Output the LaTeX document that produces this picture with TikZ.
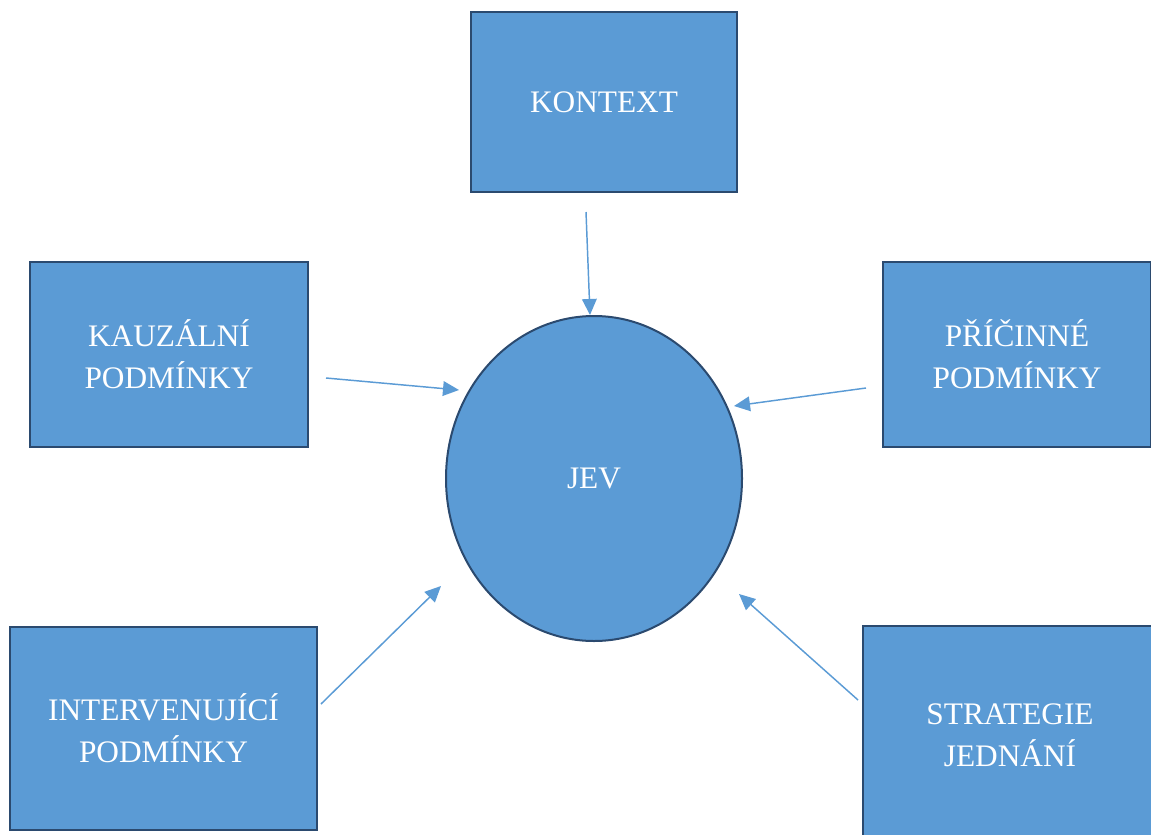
\documentclass[tikz,border=0pt]{standalone}
\usepackage{fontspec}
\setmainfont{Liberation Serif}
\usetikzlibrary{arrows.meta,shapes.geometric}
\definecolor{boxblue}{HTML}{5B9BD5}
\definecolor{boxline}{HTML}{2B4A6F}

\begin{document}
\begin{tikzpicture}[x=0.75pt,y=-0.75pt,
  box/.style={draw=boxline,line width=1.8pt,fill=boxblue,text=white,align=center,
    inner sep=0pt,outer sep=0pt,font=\fontsize{23.5}{31.5}\selectfont},
  arr/.style={draw=boxblue,line width=1.1pt,-{Triangle[length=12pt,width=11pt]}}]
  \useasboundingbox (0,0) rectangle (1151,834);
  \clip (0,0) rectangle (1151,834);
  \node[box,minimum width=199.5pt,minimum height=135pt] (kontext) at (604,102) {KONTEXT};
  \node[box,minimum width=208.5pt,minimum height=138.75pt] (kauzalni) at (169,354.5) {KAUZÁLNÍ\\PODMÍNKY};
  \node[box,minimum width=201pt,minimum height=138.75pt] (pricinne) at (1017,354.5) {PŘÍČINNÉ\\PODMÍNKY};
  \node[box,minimum width=230.25pt,minimum height=152.25pt] (interv) at (163.5,728.5) {INTERVENUJÍCÍ\\PODMÍNKY};
  \node[box,minimum width=220.5pt,minimum height=163.5pt] (strategie) at (1010,735) {STRATEGIE\\JEDNÁNÍ};
  \node[box,ellipse,line width=1.5pt,minimum width=222pt,minimum height=243.75pt] (jev) at (594,478.5) {JEV};
  % arrow ends
  \coordinate (k1) at (586,212);   \coordinate (k2) at (590,315);
  \coordinate (a1) at (326,378);   \coordinate (a2) at (459,390);
  \coordinate (p1) at (866,388);   \coordinate (p2) at (734,406);
  \coordinate (i1) at (321,704);   \coordinate (i2) at (441,586);
  \coordinate (s1) at (858,700);   \coordinate (s2) at (739,594);
  \draw[arr] (k1) -- (k2);
  \draw[arr] (a1) -- (a2);
  \draw[arr] (p1) -- (p2);
  \draw[arr] (i1) -- (i2);
  \draw[arr] (s1) -- (s2);
\end{tikzpicture}
\end{document}
